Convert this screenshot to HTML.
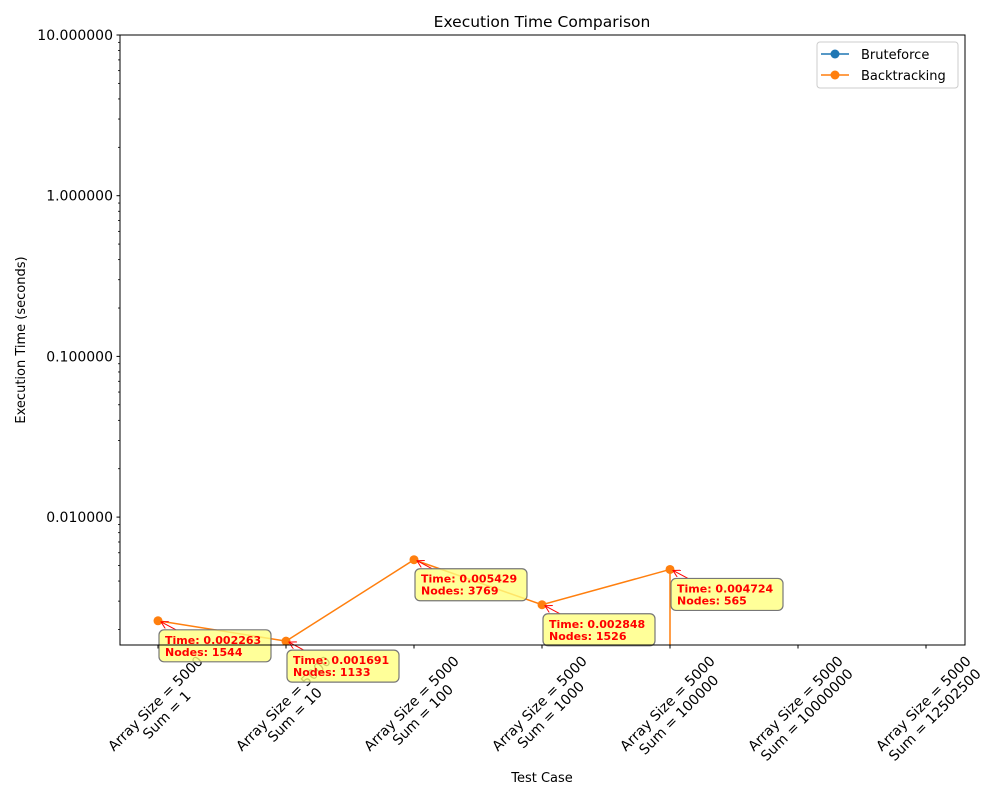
<!DOCTYPE html>
<html><head><meta charset="utf-8"><style>
body{margin:0;background:#fff;font-family:"Liberation Sans","DejaVu Sans",sans-serif;}
text{font-family:"DejaVu Sans","Liberation Sans",sans-serif;}
</style></head><body>
<svg id="chart" width="1000" height="800" xmlns="http://www.w3.org/2000/svg">
<rect width="1000" height="800" fill="#fff"/>
<text x="542" y="27" text-anchor="middle" font-size="15.5">Execution Time Comparison</text>
<text transform="translate(25,340) rotate(-90)" text-anchor="middle" font-size="13">Execution Time (seconds)</text>
<text x="542" y="782" text-anchor="middle" font-size="13">Test Case</text>
<defs><clipPath id="clip"><rect x="120" y="35" width="845" height="610"/></clipPath>
<marker id="arr" markerWidth="8" markerHeight="8" refX="7" refY="4" orient="auto" markerUnits="userSpaceOnUse"><path d="M0,0 L7,4 L0,8" fill="none" stroke="red" stroke-width="1"/></marker></defs>
<g id="axes"></g>
<g id="series" clip-path="url(#clip)"></g>
<g id="annots"></g>
<rect x="120" y="35" width="845" height="610" fill="none" stroke="#000" stroke-width="1"/>
<g>
<rect x="817" y="42" width="141" height="46" rx="3" fill="#fff" stroke="#ccc"/>
<line x1="821" y1="54" x2="849" y2="54" stroke="#1f77b4" stroke-width="1.5"/><circle cx="835" cy="54" r="4.5" fill="#1f77b4"/>
<text x="861" y="59" font-size="13">Bruteforce</text>
<line x1="821" y1="75" x2="849" y2="75" stroke="#ff7f0e" stroke-width="1.5"/><circle cx="835" cy="75" r="4.5" fill="#ff7f0e"/>
<text x="861" y="80" font-size="13">Backtracking</text>
</g>
</svg>
<script>
const categories=["Array Size = 5000|Sum = 1","Array Size = 5000|Sum = 10","Array Size = 5000|Sum = 100","Array Size = 5000|Sum = 1000","Array Size = 5000|Sum = 100000","Array Size = 5000|Sum = 10000000","Array Size = 5000|Sum = 12502500"];
const backtrackTimes=[0.002263,0.001691,0.005429,0.002848,0.004724,0,null];
const backtrackNodes=[1544,1133,3769,1526,565,null,null];
const bruteTimes=[null,null,null,null,null,null,null];
const yMajorTicks=[0.01,0.1,1,10];
const yTickLabels=["0.010000","0.100000","1.000000","10.000000"];
const NS="http://www.w3.org/2000/svg";
const X0=158,DX=128,YTOP=35,YBOT=645,DEC=160.7;
function xs(i){return X0+i*DX;}
function ys(v){return 35+(1-Math.log10(v))*DEC;}
function mk(tag,attrs,parent){const e=document.createElementNS(NS,tag);for(const k in attrs)e.setAttribute(k,attrs[k]);parent.appendChild(e);return e;}
const axes=document.getElementById('axes');
yMajorTicks.forEach((v,i)=>{const y=ys(v);
 const t=mk('line',{x1:116.5,x2:120,y1:y,y2:y,stroke:'#000'},axes);
 
 const l=mk('text',{x:113,y:y+5,'text-anchor':'end','font-size':14},axes);l.textContent=yTickLabels[i];
 
});
for(let d=-3;d<=0;d++){for(let m=2;m<=9;m++){const v=m*Math.pow(10,d);const y=ys(v);if(y<YTOP||y>YBOT)continue;
 const t=mk('line',{x1:118,x2:120,y1:y,y2:y,stroke:'#000','stroke-width':0.8},axes);
 }}
categories.forEach((c,i)=>{const x=xs(i);
 const t=mk('line',{x1:x,x2:x,y1:645,y2:648.5,stroke:'#000'},axes);
 
 const parts=c.split('|');
 const g=mk('g',{transform:`translate(${x+3},709) rotate(-45)`},axes);
 
 const a=mk('text',{x:0,y:-3,'text-anchor':'middle','font-size':14},g);a.textContent=parts[0];
 const b=mk('text',{x:0,y:13,'text-anchor':'middle','font-size':14},g);b.textContent=parts[1];
});
const ser=document.getElementById('series');
function drawSeries(vals,color,name){let d='';let lastX=null;
 vals.forEach((v,i)=>{if(v===null)return;
  if(v>0){d+=(d?'L':'M')+xs(i)+','+ys(v);lastX=xs(i);}
  else if(lastX!==null){d+='L'+lastX+',700';}});
 if(d){const p=mk('path',{d:d,fill:'none',stroke:color,'stroke-width':1.5},ser);}
 vals.forEach((v,i)=>{if(v===null||v<=0)return;const c=mk('circle',{cx:xs(i),cy:ys(v),r:4.5,fill:color},ser);
  });}
drawSeries(bruteTimes,'#1f77b4','bruteforce');
drawSeries(backtrackTimes,'#ff7f0e','backtracking');
const an=document.getElementById('annots');
backtrackTimes.forEach((v,i)=>{if(v===null||v<=0||backtrackNodes[i]===null)return;const x=xs(i),y=ys(v);
 const g=mk('g',{},an);
 mk('line',{x1:x+18,y1:y+9,x2:x+3,y2:y+1,stroke:'red','stroke-width':1,'marker-end':'url(#arr)'},g);
 const t1='Time: '+v.toFixed(6),t2='Nodes: '+backtrackNodes[i];
 const w=Math.max(t1.length,t2.length)*7.0+14;
 mk('rect',{x:x+1,y:y+9,width:w,height:32,rx:5,fill:'#ffff80','fill-opacity':0.8,stroke:'#777','stroke-width':1.2},g);
 const a=mk('text',{x:x+7,y:y+23,'font-size':11,'font-weight':'bold',fill:'red'},g);a.textContent=t1;
 const b=mk('text',{x:x+7,y:y+35,'font-size':11,'font-weight':'bold',fill:'red'},g);b.textContent=t2;
});
</script>
</body></html>
